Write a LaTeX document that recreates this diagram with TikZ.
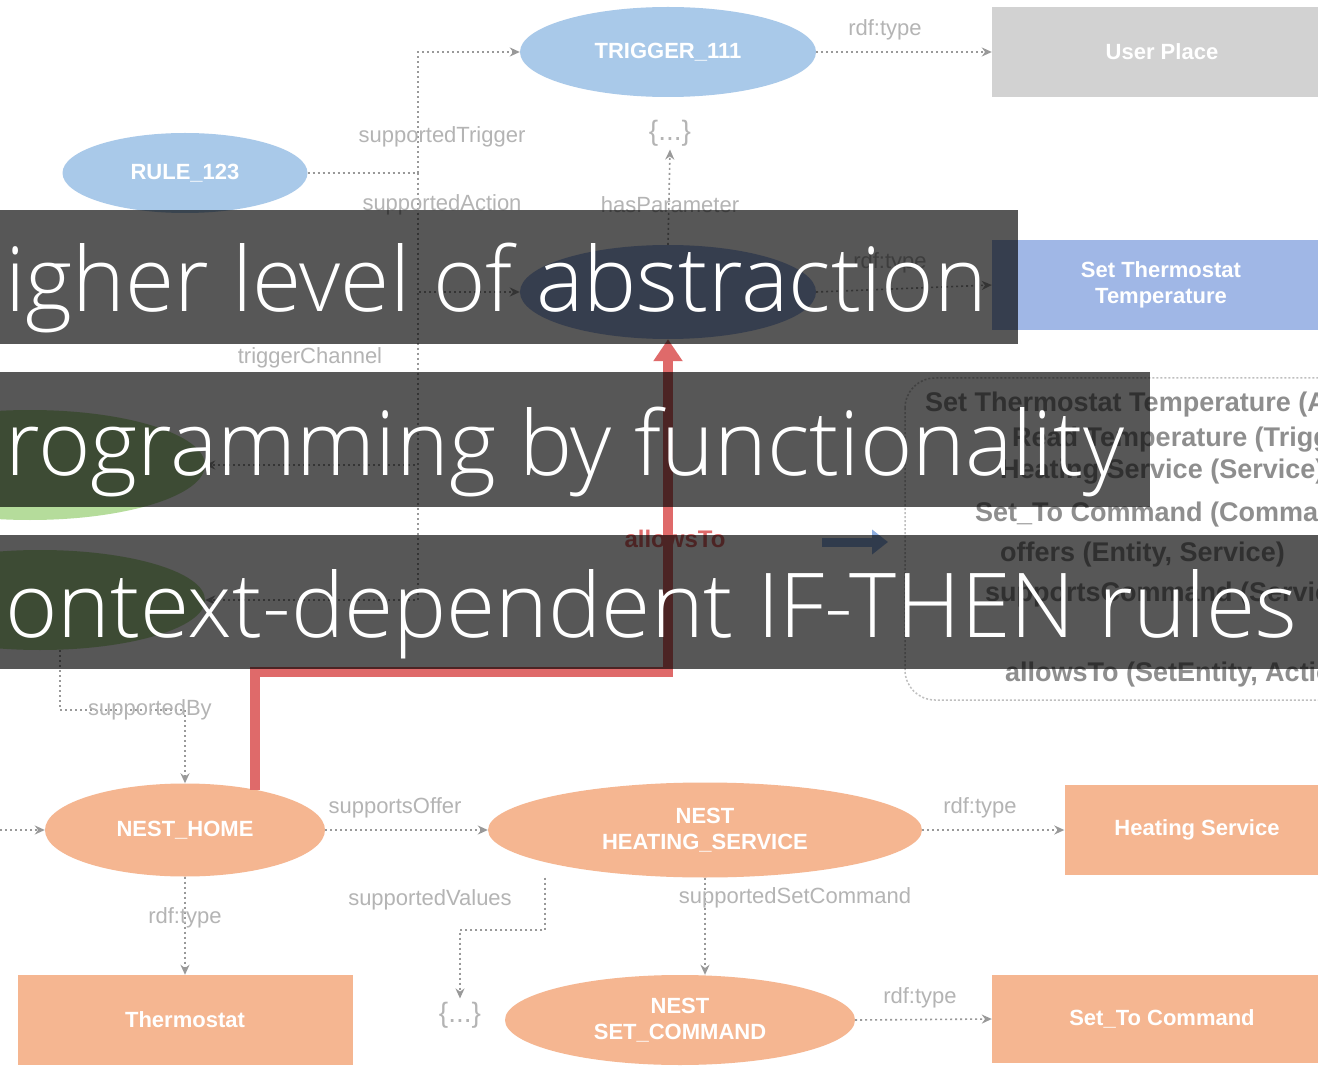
\documentclass[tikz,border=0pt]{standalone}
\usepackage{fontspec}
\setmainfont{Liberation Sans}
\newfontfamily\barfont{Open Sans Light}
\usetikzlibrary{shapes.geometric,arrows.meta}
\definecolor{skyblue}{HTML}{A9C9E9}
\definecolor{setblue}{HTML}{A0B7E6}
\definecolor{placegray}{HTML}{D2D2D2}
\definecolor{peach}{HTML}{F5B691}
\definecolor{leaf}{HTML}{B5DC9B}
\definecolor{rulered}{HTML}{DF6A6A}
\definecolor{arrowblue}{HTML}{8DAEE0}
\definecolor{lblgray}{HTML}{B4B4B4}
\definecolor{notegray}{HTML}{8E8E8E}
\tikzset{
  oval/.style={ellipse, inner sep=0pt, text=white, align=center,
    font=\bfseries\fontsize{22}{26}\selectfont},
  block/.style={rectangle, inner sep=0pt, text=white, align=center,
    font=\bfseries\fontsize{22}{26}\selectfont},
  link/.style={draw=black!40, line width=1.6pt, dash pattern=on 2pt off 3pt,
    -{Stealth[length=10pt,width=9pt]}},
  plainlink/.style={draw=black!40, line width=1.6pt, dash pattern=on 2pt off 3pt},
  lbl/.style={text=lblgray, inner sep=1pt, font=\fontsize{22}{24}\selectfont},
  lit/.style={text=lblgray, font=\fontsize{28}{30}\selectfont},
  noteline/.style={anchor=west, text=notegray, inner sep=0pt,
    font=\bfseries\fontsize{27}{30}\selectfont},
  redlink/.style={draw=rulered, line width=10pt,
    -{Triangle[length=22pt,width=28pt]}},
  band/.style={fill=black, fill opacity=0.66, draw=none},
  bandtext/.style={anchor=base west, text=white, inner sep=0pt,
    font=\barfont\fontsize{89.5}{100}\selectfont}
}
\begin{document}
\begin{tikzpicture}[x=1pt,y=-1pt]
\useasboundingbox (0,0) rectangle (1318,1067);
\clip (0,0) rectangle (1318,1067);
\fill[white] (0,0) rectangle (1318,1067);

% upper part: rule, trigger and action
\node[oval, fill=skyblue, minimum width=296pt, minimum height=90pt] (trig) at (668,52) {TRIGGER\_111};
\node[block, fill=placegray, minimum width=340pt, minimum height=90pt] (place) at (1162,52) {User Place};
\node[oval, fill=skyblue, minimum width=245pt, minimum height=80pt] (rule) at (185,173) {RULE\_123};
\node[oval, fill=setblue, minimum width=296pt, minimum height=94pt] (action) at (668,292) {};
\node[block, fill=setblue, minimum width=338pt, minimum height=90pt] (setrect) at (1161,285) {Set Thermostat\\Temperature};
\node[lit] (lit1) at (670,133) {\{...\}};
\node[oval, fill=leaf, minimum width=350pt, minimum height=110pt] (green1) at (30,465) {};
\node[oval, fill=leaf, minimum width=330pt, minimum height=100pt] (green2) at (40,600) {};

\coordinate (j1) at (418,173);
\draw[plainlink] (rule.east) -- (j1);
\draw[link] (j1) |- (trig.west);
\draw[link] (j1) |- (action.west);
\draw[link] (j1) |- (green1.east);
\draw[link] (j1) |- (green2.east);
\draw[link] (trig.east) -- (place.west);
\draw[link] (action.east) -- (setrect.west);
\draw[link] (action.north) -- (lit1.south);

\node[lbl] at (442,137) {supportedTrigger};
\node[lbl] at (442,205) {supportedAction};
\node[lbl] at (670,205) {hasParameter};
\node[lbl] at (310,358) {triggerChannel};
\node[lbl] at (885,30) {rdf:type};
\node[lbl] at (890,263) {rdf:type};

% legend box on the right
\draw[draw=black!25, line width=1.5pt, dash pattern=on 2pt off 2pt, rounded corners=30pt]
  (905,378) rectangle (1400,700);
\node[noteline] (n1) at (925,405) {Set Thermostat Temperature (Action)};
\node[noteline] (n2) at (1012,440) {Read Temperature (Trigger)};
\node[noteline] (n3) at (1000,472) {Heating Service (Service)};
\node[noteline] (n4) at (975,515) {Set\_To Command (Command)};
\node[noteline] (n5) at (1000,555) {offers (Entity, Service)};
\node[noteline] (n6) at (985,595) {supportsCommand (Service, Command)};
\node[noteline] (n7) at (1005,675) {allowsTo (SetEntity, Action)};

% lower part: the Nest entities
\node[oval, fill=peach, minimum width=280pt, minimum height=93pt] (home) at (185,830) {NEST\_HOME};
\node[oval, fill=peach, minimum width=434pt, minimum height=95pt] (heat) at (705,830) {NEST\\HEATING\_SERVICE};
\node[block, fill=peach, minimum width=265pt, minimum height=90pt] (heatrect) at (1197,830) {Heating Service};
\node[block, fill=peach, minimum width=335pt, minimum height=90pt] (thermo) at (185,1020) {Thermostat};
\node[oval, fill=peach, minimum width=350pt, minimum height=90pt] (cmd) at (680,1020) {NEST\\SET\_COMMAND};
\node[block, fill=peach, minimum width=340pt, minimum height=88pt] (cmdrect) at (1162,1019) {Set\_To Command};
\node[lit] (lit2) at (460,1015) {\{...\}};

\coordinate (offL) at (0,830);
\coordinate (g2down) at (60,710);
\coordinate (hv) at (545,930);
\draw[link] (offL) -- (home.west);
\draw[link] (green2.south -| g2down) -- (g2down) -| (home.north);
\draw[link] (home.east) -- (heat.west);
\draw[link] (heat.east) -- (heatrect.west);
\draw[link] (home.south) -- (thermo.north);
\draw[link] (heat.south) -- (heat.south |- cmd.north);
\draw[link] (cmd.east) -- (cmdrect.west);
\draw[link] (heat.south -| hv) -- (hv) -| (lit2.north);

\node[lbl] at (150,710) {supportedBy};
\node[lbl] at (395,808) {supportsOffer};
\node[lbl] at (980,808) {rdf:type};
\node[lbl] at (185,918) {rdf:type};
\node[lbl] at (430,900) {supportedValues};
\node[lbl] at (795,898) {supportedSetCommand};
\node[lbl] at (920,998) {rdf:type};

% the highlighted link and its label
\coordinate (redturn) at (0,672);
\draw[redlink] (home.30) -- (home.30 |- redturn) -| (action.south);
\node[text=rulered, font=\bfseries\fontsize{24}{26}\selectfont] at (675,539) {allowsTo};
\coordinate (ba) at (822,542);
\coordinate (bb) at (888,542);
\draw[draw=arrowblue, line width=9pt, -{Triangle[length=16pt,width=24pt]}] (ba) -- (bb);

% caption bands
\path[band] (0,210) rectangle (1018,344);
\path[band] (0,372) rectangle (1150,507);
\path[band] (0,535) rectangle (1318,669);
\node[bandtext] (t1) at (5,312) {igher level of abstraction};
\node[bandtext] (t2) at (5,475) {rogramming by functionality};
\node[bandtext] (t3) at (5,637) {ontext-dependent IF-THEN rules};
\end{tikzpicture}
\end{document}
